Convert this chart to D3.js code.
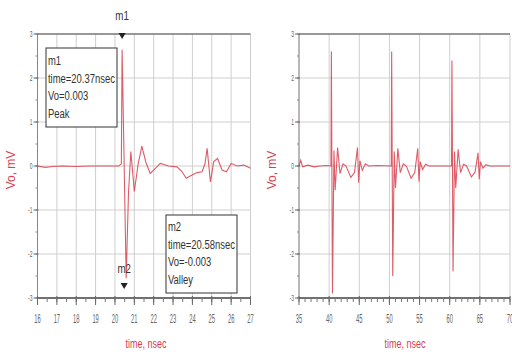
<!DOCTYPE html>
<html><head><meta charset="utf-8">
<script src="https://cdn.jsdelivr.net/npm/d3@7"></script>
<style>html,body{margin:0;padding:0;background:#fff}</style>
</head><body>
<svg id="c" width="512" height="358"></svg>
<script>
// ---- data ----
const leftTime = [16, 16.4, 16.8, 17.3, 18, 18.7, 19.5, 20.2, 20.33, 20.37, 20.58, 20.7, 20.82, 21.0, 21.2, 21.39, 21.6, 21.82, 22.1, 22.34, 22.77, 23.2, 23.45, 23.68, 24.0, 24.24, 24.5, 24.65, 24.76, 24.85, 24.93, 25.1, 25.3, 25.53, 25.76, 26.0, 26.31, 26.65, 27];
const leftVo   = [0, -0.03, -0.01, 0, -0.01, 0, 0, 0, 0.05, 2.64, -2.55, -0.6, 0.33, -0.58, 0.05, 0.45, 0.08, -0.17, -0.05, 0.06, 0, -0.02, -0.12, -0.28, -0.2, -0.15, -0.13, 0.05, 0.4, 0.0, -0.36, 0.1, 0.17, -0.09, -0.13, 0.06, 0, 0.02, -0.05];

const rightTime = [35, 35.3, 35.6, 36.5, 37.5, 38.5, 39.5, 40.3, 40.37, 40.55, 40.8, 41.0, 41.4, 41.8, 42.3, 42.8, 43.6, 44.2, 44.7, 44.9, 45.1, 45.5, 46.0, 46.6, 48.0, 50.3, 50.37, 50.55, 50.8, 51.0, 51.4, 51.8, 52.3, 52.8, 53.6, 54.2, 54.7, 54.9, 55.1, 55.5, 56.0, 56.6, 58.0, 60.3, 60.37, 60.55, 60.8, 61.0, 61.4, 61.8, 62.3, 62.8, 63.6, 64.2, 64.7, 64.9, 65.1, 65.5, 66.0, 66.6, 68.0, 70];
const rightVo   = [0, 0.13, -0.02, 0.02, -0.02, 0, 0.01, 0, 2.6, -2.9, 0.35, -0.55, 0.42, -0.17, 0.05, 0, -0.26, -0.15, 0.42, -0.38, 0.12, -0.1, 0.05, 0, 0.01, 0, 2.6, -2.5, 0.33, -0.5, 0.4, -0.15, 0.05, 0, -0.28, -0.15, 0.4, -0.36, 0.1, -0.08, 0.04, 0, 0, 0, 2.4, -2.4, 0.33, -0.5, 0.38, -0.15, 0.04, 0, -0.25, -0.14, 0.3, -0.3, 0.1, -0.05, 0.03, 0, 0, 0];

const yTicks = [-3, -2, -1, 0, 1, 2, 3];
const leftXTicks = [16, 17, 18, 19, 20, 21, 22, 23, 24, 25, 26, 27];
const rightXTicks = [35, 40, 45, 50, 55, 60, 65, 70];

const markers = [
  {name: "m1", t: 20.37, lines: ["m1", "time=20.37nsec", "Vo=0.003", "Peak"]},
  {name: "m2", t: 20.58, lines: ["m2", "time=20.58nsec", "Vo=-0.003", "Valley"]}
];

const RED = "#d8404e";
const GRID = "#cfcfcf";
const AXIS = "#4a4a4a";
const svg = d3.select("#c");

function panel(opt) {
  const {x0, x1, y0, y1, domain, majors, minorStep, time, vo, titleX, titleY} = opt;
  const x = d3.scaleLinear().domain(domain).range([x0, x1]);
  const y = d3.scaleLinear().domain([-3, 3]).range([y1, y0]);
  const g = svg.append("g");

  // grid
  g.selectAll(".vg").data(majors).join("line")
    .attr("x1", d => x(d)).attr("x2", d => x(d)).attr("y1", y0).attr("y2", y1)
    .attr("stroke", GRID).attr("stroke-width", 1);
  g.selectAll(".hg").data(yTicks).join("line")
    .attr("x1", x0).attr("x2", x1).attr("y1", d => y(d)).attr("y2", d => y(d))
    .attr("stroke", GRID).attr("stroke-width", 1);

  // frame
  g.append("line").attr("x1", x0).attr("x2", x1).attr("y1", y0).attr("y2", y0).attr("stroke", AXIS).attr("stroke-width", 1.2);
  g.append("line").attr("x1", x0).attr("x2", x1).attr("y1", y1).attr("y2", y1).attr("stroke", AXIS).attr("stroke-width", 1.4);
  g.append("line").attr("x1", x0).attr("x2", x0).attr("y1", y0).attr("y2", y1).attr("stroke", "#888").attr("stroke-width", 1);

  // x axis ticks
  const minors = d3.range(domain[0], domain[1] + 1e-9, minorStep);
  g.selectAll(".mt").data(minors).join("line")
    .attr("x1", d => x(d)).attr("x2", d => x(d)).attr("y1", y1 - 1).attr("y2", y1 + 4)
    .attr("stroke", "#777").attr("stroke-width", 1);
  g.selectAll(".Mt").data(majors).join("line")
    .attr("x1", d => x(d)).attr("x2", d => x(d)).attr("y1", y1 - 2).attr("y2", y1 + 7)
    .attr("stroke", "#666").attr("stroke-width", 1);
  g.selectAll(".xl").data(majors).join("text")
    .attr("transform", d => `translate(${x(d)},${y1 + 25}) scale(0.48,1)`)
    .attr("text-anchor", "middle").attr("font-family", "Liberation Sans, Arial, sans-serif")
    .attr("font-size", 12).attr("fill", "#666").text(d => d);

  // y axis ticks
  const yMinor = d3.range(-3, 3.01, 0.5);
  g.selectAll(".ymt").data(yMinor).join("line")
    .attr("x1", x0 - 2).attr("x2", x0).attr("y1", d => y(d)).attr("y2", d => y(d))
    .attr("stroke", "#888");
  g.selectAll(".yMt").data(yTicks).join("line")
    .attr("x1", x0 - 4).attr("x2", x0 + 1).attr("y1", d => y(d)).attr("y2", d => y(d))
    .attr("stroke", "#666");
  g.selectAll(".yl").data(yTicks).join("text")
    .attr("transform", d => `translate(${x0 - 5},${y(d) + 3}) scale(0.55,1)`)
    .attr("text-anchor", "end").attr("font-family", "Liberation Sans, Arial, sans-serif")
    .attr("font-size", 9).attr("fill", "#666").text(d => d);

  // series
  const pts = time.map((t, i) => [t, vo[i]]);
  g.append("path").datum(pts)
    .attr("d", d3.line().x(d => x(d[0])).y(d => y(d[1])))
    .attr("fill", "none").attr("stroke", RED).attr("stroke-width", 1.1).attr("stroke-opacity", 0.85);

  // titles
  g.append("text").attr("transform", `translate(${titleX},348) scale(0.75,1)`)
    .attr("text-anchor", "middle").attr("font-family", "Liberation Sans, Arial, sans-serif")
    .attr("font-size", 12).attr("fill", RED).text("time, nsec");
  g.append("text").attr("transform", `translate(${titleY},170) rotate(-90)`)
    .attr("text-anchor", "middle").attr("font-family", "Liberation Sans, Arial, sans-serif")
    .attr("font-size", 12).attr("fill", RED).text("Vo, mV");
  return {x, y, g};
}

const L = panel({x0: 37.5, x1: 250.5, y0: 34, y1: 298, domain: [16, 27], majors: leftXTicks, minorStep: 0.5,
  time: leftTime, vo: leftVo, titleX: 146, titleY: 15});
panel({x0: 299, x1: 510, y0: 34, y1: 298, domain: [35, 70], majors: rightXTicks, minorStep: 1,
  time: rightTime, vo: rightVo, titleX: 405, titleY: 276});

// markers
const tri = d3.symbol().type(d3.symbolTriangle).size(22);
const mk = [
  {m: markers[0], labelY: 20, triY: 35, box: [46, 48, 71, 79], lineY0: 65},
  {m: markers[1], labelY: 273, triY: 285, box: [166, 215, 71, 78], lineY0: 231}
];
mk.forEach(o => {
  const cx = L.x(o.m.t) - (o.m.name === "m2" ? 2 : 0);
  svg.append("text").attr("transform", `translate(${cx},${o.labelY}) scale(0.75,1)`)
    .attr("text-anchor", "middle").attr("font-family", "Liberation Sans, Arial, sans-serif")
    .attr("font-size", 13).attr("fill", "#333").text(o.m.name);
  svg.append("path").attr("d", tri).attr("transform", `translate(${cx},${o.triY}) rotate(180)`).attr("fill", "#222");
  const [bx, by, bw, bh] = o.box;
  svg.append("rect").attr("x", bx).attr("y", by).attr("width", bw).attr("height", bh)
    .attr("fill", "#fff").attr("stroke", "#333").attr("stroke-width", 1);
  o.m.lines.forEach((s, i) => {
    svg.append("text").attr("transform", `translate(${bx + 2},${o.lineY0 + i * 17.7}) scale(0.7,1)`)
      .attr("font-family", "Liberation Sans, Arial, sans-serif").attr("font-size", 13.5).attr("fill", "#333").text(s);
  });
});
</script>
</body></html>
